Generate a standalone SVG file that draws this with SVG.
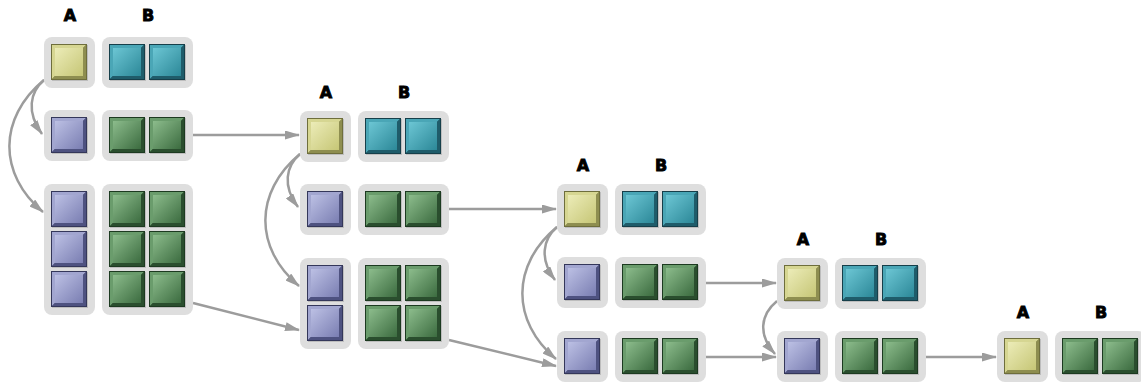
<svg xmlns="http://www.w3.org/2000/svg" xmlns:xlink="http://www.w3.org/1999/xlink" width="1141" height="383" viewBox="0 0 1141 383">
<style>
.box{fill:#dedede}
.lbl{font-family:"DejaVu Sans",sans-serif;font-weight:bold;font-size:16px;fill:#000;stroke:#000;stroke-width:0.9;text-anchor:middle}
.con{fill:none;stroke:#9c9c9c;stroke-width:2.5;marker-end:url(#ah)}
</style>
<defs>
<marker id="ah" markerUnits="userSpaceOnUse" markerWidth="15" markerHeight="9" refX="14" refY="4.5" orient="auto">
<path d="M0,0 L15,4.5 L0,9 z" fill="#9c9c9c"/>
</marker>
<linearGradient id="gy" x1="0" y1="0" x2="1" y2="1"><stop offset="0" stop-color="#ececb8"/><stop offset="1" stop-color="#c6c676"/></linearGradient>
<linearGradient id="gt" x1="0" y1="0" x2="1" y2="1"><stop offset="0" stop-color="#6cc6d4"/><stop offset="1" stop-color="#2c8898"/></linearGradient>
<linearGradient id="gb" x1="0" y1="0" x2="1" y2="1"><stop offset="0" stop-color="#bcc0e4"/><stop offset="1" stop-color="#7a7eb2"/></linearGradient>
<linearGradient id="gg" x1="0" y1="0" x2="1" y2="1"><stop offset="0" stop-color="#8cbc8c"/><stop offset="1" stop-color="#3c6c40"/></linearGradient>
<g id="ty">
<rect x="1" y="1" width="36" height="36" fill="#000" opacity="0.15"/>
<rect width="36" height="36" fill="#6e6e3c"/>
<polygon points="1,1 35,1 32,4 4,4 4,32 1,35" fill="#d6d692"/>
<polygon points="35,1 35,35 1,35 4,32 32,32 32,4" fill="#8e8e50"/>
<rect x="4" y="4" width="28" height="28" fill="url(#gy)"/>
</g>
<g id="tt">
<rect x="1" y="1" width="36" height="36" fill="#000" opacity="0.15"/>
<rect width="36" height="36" fill="#163f4a"/>
<polygon points="1,1 35,1 32,4 4,4 4,32 1,35" fill="#4aa6b6"/>
<polygon points="35,1 35,35 1,35 4,32 32,32 32,4" fill="#1f5c6a"/>
<rect x="4" y="4" width="28" height="28" fill="url(#gt)"/>
</g>
<g id="tb">
<rect x="1" y="1" width="36" height="36" fill="#000" opacity="0.15"/>
<rect width="36" height="36" fill="#34375a"/>
<polygon points="1,1 35,1 32,4 4,4 4,32 1,35" fill="#a2a6d0"/>
<polygon points="35,1 35,35 1,35 4,32 32,32 32,4" fill="#4e5280"/>
<rect x="4" y="4" width="28" height="28" fill="url(#gb)"/>
</g>
<g id="tg">
<rect x="1" y="1" width="36" height="36" fill="#000" opacity="0.15"/>
<rect width="36" height="36" fill="#1c3a20"/>
<polygon points="1,1 35,1 32,4 4,4 4,32 1,35" fill="#6a9c6c"/>
<polygon points="35,1 35,35 1,35 4,32 32,32 32,4" fill="#2a4e2e"/>
<rect x="4" y="4" width="28" height="28" fill="url(#gg)"/>
</g>
</defs>
<rect width="1141" height="383" fill="#fff"/>

<g id="connectors">
<path class="con" d="M44,80 C30,92 26,112 42,134"/>
<path class="con" d="M44,80 C-2,118 -2,174 43,212"/>
<path class="con" d="M193,135 L299,135"/>
<path class="con" d="M193,303 L299,330"/>
<path class="con" d="M300,154 C286,166 282,186 298,207"/>
<path class="con" d="M300,154 C254,192 254,248 299,286"/>
<path class="con" d="M449,209 L556,209"/>
<path class="con" d="M449,340 L556,366"/>
<path class="con" d="M557,227 C543,239 539,259 555,280"/>
<path class="con" d="M557,227 C511,265 511,321 556,359"/>
<path class="con" d="M706,283 L776,283"/>
<path class="con" d="M706,357 L776,357"/>
<path class="con" d="M777,301 C760,315 758,335 775,354"/>
<path class="con" d="M926,357 L996,357"/>
</g>

<g id="labels">
<text class="lbl" x="70" y="21">A</text><text class="lbl" x="148" y="21">B</text>
<text class="lbl" x="326" y="98">A</text><text class="lbl" x="404" y="98">B</text>
<text class="lbl" x="583" y="171">A</text><text class="lbl" x="661" y="171">B</text>
<text class="lbl" x="803" y="245">A</text><text class="lbl" x="881" y="245">B</text>
<text class="lbl" x="1023" y="318">A</text><text class="lbl" x="1101" y="318">B</text>
</g>

<!-- Column 1 -->
<g id="c1r1A"><rect class="box" x="44" y="37" width="51" height="51" rx="8"/><use href="#ty" x="51" y="44"/></g>
<g id="c1r1B"><rect class="box" x="102" y="37" width="91" height="51" rx="8"/><use href="#tt" x="109" y="44"/><use href="#tt" x="149" y="44"/></g>
<g id="c1r2A"><rect class="box" x="44" y="110" width="51" height="51" rx="8"/><use href="#tb" x="51" y="117"/></g>
<g id="c1r2B"><rect class="box" x="102" y="110" width="91" height="51" rx="8"/><use href="#tg" x="109" y="117"/><use href="#tg" x="149" y="117"/></g>
<g id="c1r3A"><rect class="box" x="44" y="184" width="51" height="131" rx="8"/><use href="#tb" x="51" y="191"/><use href="#tb" x="51" y="231"/><use href="#tb" x="51" y="271"/></g>
<g id="c1r3B"><rect class="box" x="102" y="184" width="91" height="131" rx="8"/>
<use href="#tg" x="109" y="191"/><use href="#tg" x="149" y="191"/>
<use href="#tg" x="109" y="231"/><use href="#tg" x="149" y="231"/>
<use href="#tg" x="109" y="271"/><use href="#tg" x="149" y="271"/></g>

<!-- Column 2 -->
<g id="c2r1A"><rect class="box" x="300" y="111" width="51" height="51" rx="8"/><use href="#ty" x="307" y="118"/></g>
<g id="c2r1B"><rect class="box" x="358" y="111" width="91" height="51" rx="8"/><use href="#tt" x="365" y="118"/><use href="#tt" x="405" y="118"/></g>
<g id="c2r2A"><rect class="box" x="300" y="184" width="51" height="51" rx="8"/><use href="#tb" x="307" y="191"/></g>
<g id="c2r2B"><rect class="box" x="358" y="184" width="91" height="51" rx="8"/><use href="#tg" x="365" y="191"/><use href="#tg" x="405" y="191"/></g>
<g id="c2r3A"><rect class="box" x="300" y="258" width="51" height="91" rx="8"/><use href="#tb" x="307" y="265"/><use href="#tb" x="307" y="305"/></g>
<g id="c2r3B"><rect class="box" x="358" y="258" width="91" height="91" rx="8"/>
<use href="#tg" x="365" y="265"/><use href="#tg" x="405" y="265"/>
<use href="#tg" x="365" y="305"/><use href="#tg" x="405" y="305"/></g>

<!-- Column 3 -->
<g id="c3r1A"><rect class="box" x="557" y="184" width="51" height="51" rx="8"/><use href="#ty" x="564" y="191"/></g>
<g id="c3r1B"><rect class="box" x="615" y="184" width="91" height="51" rx="8"/><use href="#tt" x="622" y="191"/><use href="#tt" x="662" y="191"/></g>
<g id="c3r2A"><rect class="box" x="557" y="257" width="51" height="51" rx="8"/><use href="#tb" x="564" y="264"/></g>
<g id="c3r2B"><rect class="box" x="615" y="257" width="91" height="51" rx="8"/><use href="#tg" x="622" y="264"/><use href="#tg" x="662" y="264"/></g>
<g id="c3r3A"><rect class="box" x="557" y="331" width="51" height="51" rx="8"/><use href="#tb" x="564" y="338"/></g>
<g id="c3r3B"><rect class="box" x="615" y="331" width="91" height="51" rx="8"/><use href="#tg" x="622" y="338"/><use href="#tg" x="662" y="338"/></g>

<!-- Column 4 -->
<g id="c4r1A"><rect class="box" x="777" y="258" width="51" height="51" rx="8"/><use href="#ty" x="784" y="265"/></g>
<g id="c4r1B"><rect class="box" x="835" y="258" width="91" height="51" rx="8"/><use href="#tt" x="842" y="265"/><use href="#tt" x="882" y="265"/></g>
<g id="c4r2A"><rect class="box" x="777" y="331" width="51" height="51" rx="8"/><use href="#tb" x="784" y="338"/></g>
<g id="c4r2B"><rect class="box" x="835" y="331" width="91" height="51" rx="8"/><use href="#tg" x="842" y="338"/><use href="#tg" x="882" y="338"/></g>

<!-- Column 5 -->
<g id="c5r1A"><rect class="box" x="997" y="331" width="51" height="51" rx="8"/><use href="#ty" x="1004" y="338"/></g>
<g id="c5r1B"><rect class="box" x="1055" y="331" width="91" height="51" rx="8"/><use href="#tg" x="1062" y="338"/><use href="#tg" x="1102" y="338"/></g>
</svg>
